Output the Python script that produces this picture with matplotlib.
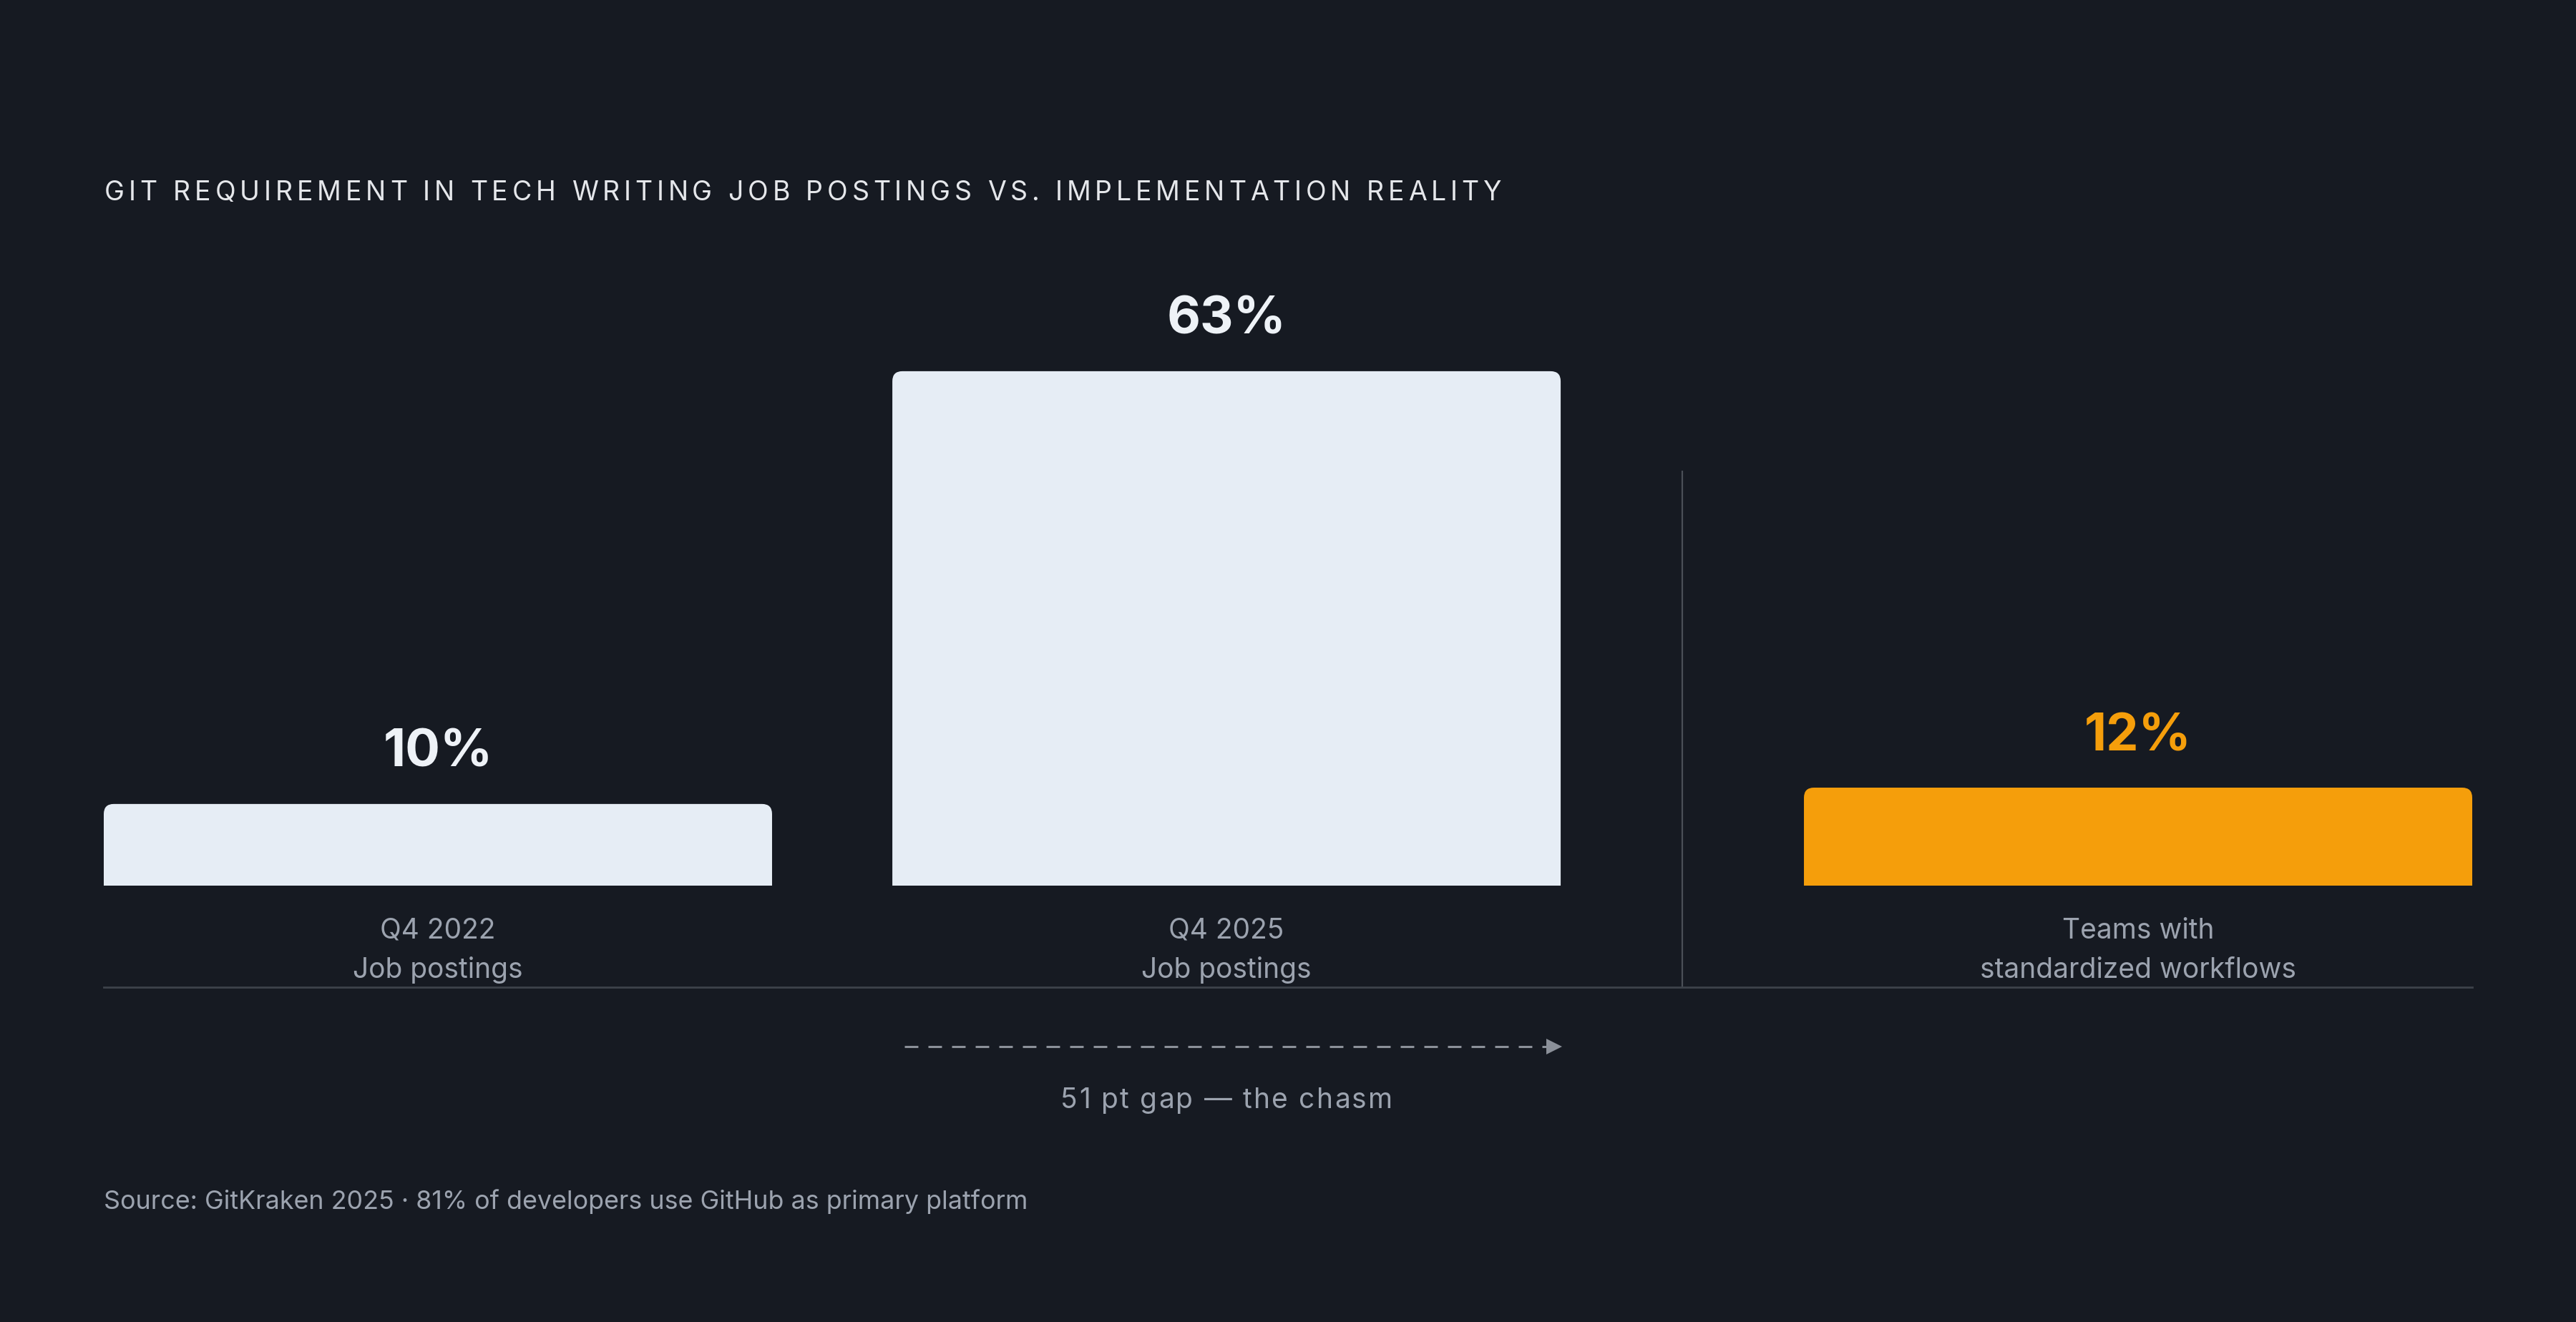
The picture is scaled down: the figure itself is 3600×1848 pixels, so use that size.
import matplotlib
matplotlib.use("Agg")
import matplotlib.pyplot as plt
from matplotlib.path import Path
from matplotlib.patches import PathPatch
from matplotlib.font_manager import FontProperties
import matplotlib.transforms as mtransforms

FAMILY = ['Inter', 'DejaVu Sans']
plt.rcParams['font.family'] = FAMILY

# data
categories = ["Q4 2022\nJob postings", "Q4 2025\nJob postings", "Teams with\nstandardized workflows"]
values = [10, 63, 12]
bar_colors = ["#e6edf5", "#e6edf5", "#f59e0b"]
label_colors = ["#eef2f7", "#eef2f7", "#f59e0b"]
title = "GIT REQUIREMENT IN TECH WRITING JOB POSTINGS VS. IMPLEMENTATION REALITY"
source = "Source: GitKraken 2025 · 81% of developers use GitHub as primary platform"

BG = "#161a22"
GRAY = "#9ca3af"
W, H = 3600, 1848
DPI = 200

fig = plt.figure(figsize=(W / DPI, H / DPI), dpi=DPI, facecolor=BG)
ax = fig.add_axes([145 / W, 1 - 1238 / H, 3310 / W, (1238 - 439) / H])
ax.set_facecolor(BG)
ax.set_xlim(-0.5, 3.044)
ax.set_ylim(0, 70)
ax.axis('off')

xpos = [0, 1.18, 2.544]
bw = 1.0

fig.canvas.draw()
renderer = fig.canvas.get_renderer()


def tracked_text(x, base, s, track, size, color, ha='left'):
    # letter-spaced text, x/base/track in pixels from top-left
    fp = FontProperties(family=FAMILY, size=size)
    wd = lambda t: renderer.get_text_width_height_descent(t, fp, ismath=False)[0]
    total = wd(s) + track * (len(s) - 1)
    x0 = x if ha == 'left' else x - total / 2
    for i, ch in enumerate(s):
        if ch == ' ':
            continue
        xr = x0 + wd(s[:i + 1]) + i * track
        fig.text(xr / W, 1 - base / H, ch, ha='right', va='baseline',
                 fontproperties=fp, color=color)


# rounded top corners, radius in pixels
bbox = ax.get_window_extent()
rx = 14 * (3.544 / bbox.width)
ry = 14 * (70 / bbox.height)

bars = ax.bar(xpos, values, width=bw, color=bar_colors)
for b, c in zip(bars, bar_colors):
    b.set_visible(False)
    x0, w, h = b.get_x(), b.get_width(), b.get_height()
    verts = [(x0, 0), (x0, h - ry), (x0, h), (x0 + rx, h), (x0 + w - rx, h),
             (x0 + w, h), (x0 + w, h - ry), (x0 + w, 0), (x0, 0)]
    codes = [Path.MOVETO, Path.LINETO, Path.CURVE3, Path.CURVE3, Path.LINETO,
             Path.CURVE3, Path.CURVE3, Path.LINETO, Path.CLOSEPOLY]
    ax.add_patch(PathPatch(Path(verts, codes), facecolor=c, edgecolor='none'))

# value labels
for x, v, c in zip(xpos, values, label_colors):
    ax.annotate(f"{v}%", (x, v), xytext=(0, 18.7), textcoords='offset points',
                ha='center', va='baseline', fontsize=26, fontweight='bold', color=c)

# category labels
fig_y = mtransforms.blended_transform_factory(ax.transData, fig.transFigure)
for x, lab in zip(xpos, categories):
    ax.text(x, 1 - 1329 / H, lab, transform=fig_y, ha='center', va='center',
            fontsize=14, color=GRAY, linespacing=1.59)

# baseline rule and divider
fig.add_artist(plt.Line2D([145 / W, 3455 / W], [1 - 1380 / H] * 2, color="#3d424a", lw=1.0))
div_x = (xpos[1] + bw / 2 + xpos[2] - bw / 2) / 2
ax.plot([div_x, div_x], [1 - 659 / H, 1 - 1380 / H], transform=fig_y,
        color="#4b5058", lw=0.8, clip_on=False)

# dashed gap arrow under the 63% bar
ay = 1 - 1463 / H
x_start = xpos[1] - bw / 2 + 0.018
x_end = xpos[1] + bw / 2
ax.plot([x_start, x_end - 0.016], [ay, ay], transform=fig_y, color="#8b9099",
        lw=1.1, dashes=(6.2, 4.6), clip_on=False)
ax.plot([x_end - 0.01], [ay], transform=fig_y, marker='>', markersize=8,
        color="#8b9099", markeredgewidth=0, clip_on=False)
gap_cx = ax.transData.transform((xpos[1], 0))[0]
tracked_text(gap_cx, 1549, f"{values[1] - values[2]} pt gap — the chasm",
             2.2, 14, GRAY, ha='center')

# title and source
tracked_text(146, 280, title, 5.85, 13.5, "#e5e7eb")
fig.text(145 / W, 1 - 1680 / H, source, ha='left', va='center', fontsize=12.9, color=GRAY)

fig.savefig("out.png", dpi=DPI, facecolor=BG)
